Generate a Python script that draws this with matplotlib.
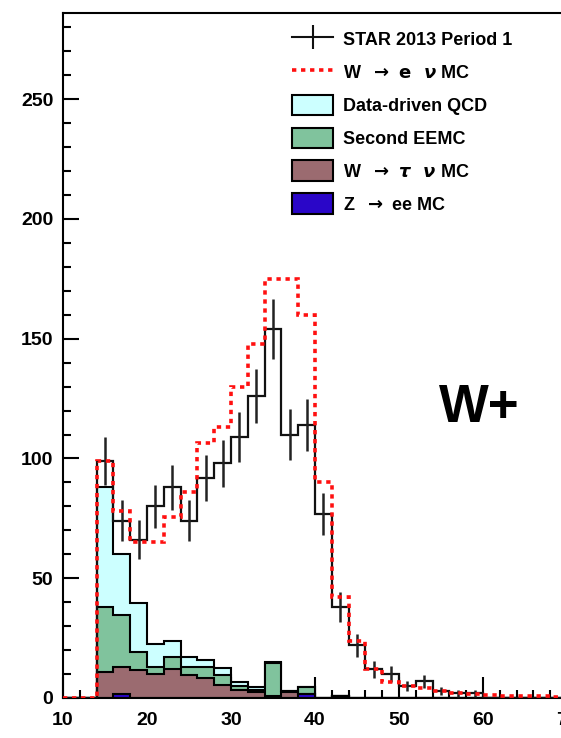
import numpy as np
import matplotlib
matplotlib.use("Agg")
import matplotlib.pyplot as plt
from matplotlib.lines import Line2D
from matplotlib.patches import Patch

plt.rcParams.update({
    "font.family": ["Liberation Sans", "DejaVu Sans"],
    "font.weight": "bold",
    "axes.linewidth": 1.5,
    "mathtext.fontset": "dejavusans",
})

# ── Binning: 2 GeV bins over 10–70 ────────────────────────────────────────────
bin_edges = np.arange(10, 72, 2)

# STAR 2013 Period 1 data (counts per bin)
data_counts = [0, 0, 99, 74, 66, 80, 88, 74, 92, 98, 109, 126, 154, 110, 114,
               77, 38, 22, 12, 10, 5, 7, 3, 2, 2, 0, 0, 0, 0, 0]

# W -> e nu MC (summed prediction)
w_enu_mc = [0, 0, 99, 78, 65, 65, 75.5, 86, 106.5, 113, 130, 148, 175, 175, 160,
            90, 42, 23.6, 12, 6.5, 5, 4, 3, 2, 1.5, 1.2, 1, 1, 0.8, 0.5]

# Background components (per bin, not stacked)
qcd      = [0, 0, 50.1, 25.3, 20.5, 9.5, 6.4, 4.1, 3.0, 2.9, 1.8, 1.2, 0.5, 0.2, 0.1,
            0, 0, 0, 0, 0, 0, 0, 0, 0, 0, 0, 0, 0, 0, 0]
eemc     = [0, 0, 26.9, 21.7, 7.3, 2.9, 5.3, 3.6, 4.6, 4.0, 1.5, 0.7, 13.5, 0.2, 2.9,
            0, 0, 0, 0, 0, 0, 0, 0, 0, 0, 0, 0, 0, 0, 0]
w_taunu  = [0, 0, 11.0, 11.5, 11.7, 10.2, 12.0, 9.5, 8.2, 5.5, 3.5, 2.6, 1.0, 2.6, 0,
            0, 0, 0, 0, 0, 0, 0, 0, 0, 0, 0, 0, 0, 0, 0]
z_ee     = [0, 0, 0, 1.5, 0, 0, 0, 0, 0, 0, 0, 0, 0, 0, 1.5,
            0, 1.0, 0, 0, 0, 0, 0, 0, 0, 0, 0, 0, 0, 0, 0]

labels = ["STAR 2013 Period 1",
          r"W  $\rightarrow\ \mathrm{e}\ \ \nu$ MC",
          "Data-driven QCD",
          "Second EEMC",
          r"W  $\rightarrow\ \tau\ \ \nu$ MC",
          r"Z  $\rightarrow$ ee MC"]

C_QCD = "#ccffff"
C_EEMC = "#80c39d"
C_TAU = "#9b6b70"
C_Z = "#2a06c8"

fig = plt.figure(figsize=(5.61, 7.38), dpi=100)
# axes run past the right edge of the canvas
ax = fig.add_axes([63 / 561, 40 / 738, 504 / 561, 685 / 738])

# stacked backgrounds, drawn top-down so lower layers sit on top
s_z = np.array(z_ee)
s_tau = s_z + np.array(w_taunu)
s_eemc = s_tau + np.array(eemc)
s_qcd = s_eemc + np.array(qcd)
for vals, col in [(s_qcd, C_QCD), (s_eemc, C_EEMC), (s_tau, C_TAU), (s_z, C_Z)]:
    ax.stairs(vals, bin_edges, fill=True, facecolor=col, edgecolor="black",
              linewidth=1.5, zorder=2)

# data: step outline plus sqrt(N) error bars
data = np.array(data_counts, dtype=float)
centers = 0.5 * (bin_edges[:-1] + bin_edges[1:])
ax.stairs(data, bin_edges, color="#111111", linewidth=1.6, zorder=3)
nz = data > 0
ax.errorbar(centers[nz], data[nz], yerr=np.sqrt(data[nz]), fmt="none",
            ecolor="#222222", elinewidth=1.8, capsize=0, zorder=3)

# signal MC
red_ls = (0, (1.2, 1.3))
ax.stairs(w_enu_mc, bin_edges, color="#ff1010", linewidth=2.6,
          linestyle=red_ls, zorder=4)

ax.set_xlim(10, 70)
ax.set_ylim(0, 286)
ax.set_xticks(np.arange(10, 71, 10))
ax.set_xticks(np.arange(10, 71, 2), minor=True)
ax.set_yticks(np.arange(0, 251, 50))
ax.set_yticks(np.arange(0, 281, 10), minor=True)
ax.tick_params(axis="x", which="major", direction="in", length=15, width=1.5,
               pad=10, labelsize=14)
ax.tick_params(axis="x", which="minor", direction="in", length=6, width=1.5)
ax.tick_params(axis="y", which="major", direction="in", length=11.5, width=1.5,
               pad=7, labelsize=14)
ax.tick_params(axis="y", which="minor", direction="in", length=6, width=1.5)

ax.text(59.6, 121, "W+", fontsize=38, fontweight="bold", ha="center",
        va="center")

handles = [
    (Line2D([0], [0], color="#111111", lw=1.5),
     Line2D([0], [0], color="#111111", marker="|", ms=17, mew=1.5, ls="none")),
    Line2D([0], [0], color="#ff1010", lw=2.6, ls=red_ls),
    Patch(facecolor=C_QCD, edgecolor="black", lw=1.5),
    Patch(facecolor=C_EEMC, edgecolor="black", lw=1.5),
    Patch(facecolor=C_TAU, edgecolor="black", lw=1.5),
    Patch(facecolor=C_Z, edgecolor="black", lw=1.5),
]
ax.legend(handles, labels, loc="upper left",
          bbox_to_anchor=(292 / 561, 1 - 29 / 738), bbox_transform=fig.transFigure,
          frameon=False, borderpad=0, borderaxespad=0,
          prop={"size": 13, "weight": "bold"},
          handlelength=2.28, handleheight=1.39, labelspacing=0.67,
          handletextpad=0.55)

fig.savefig("out.png", dpi=100)
